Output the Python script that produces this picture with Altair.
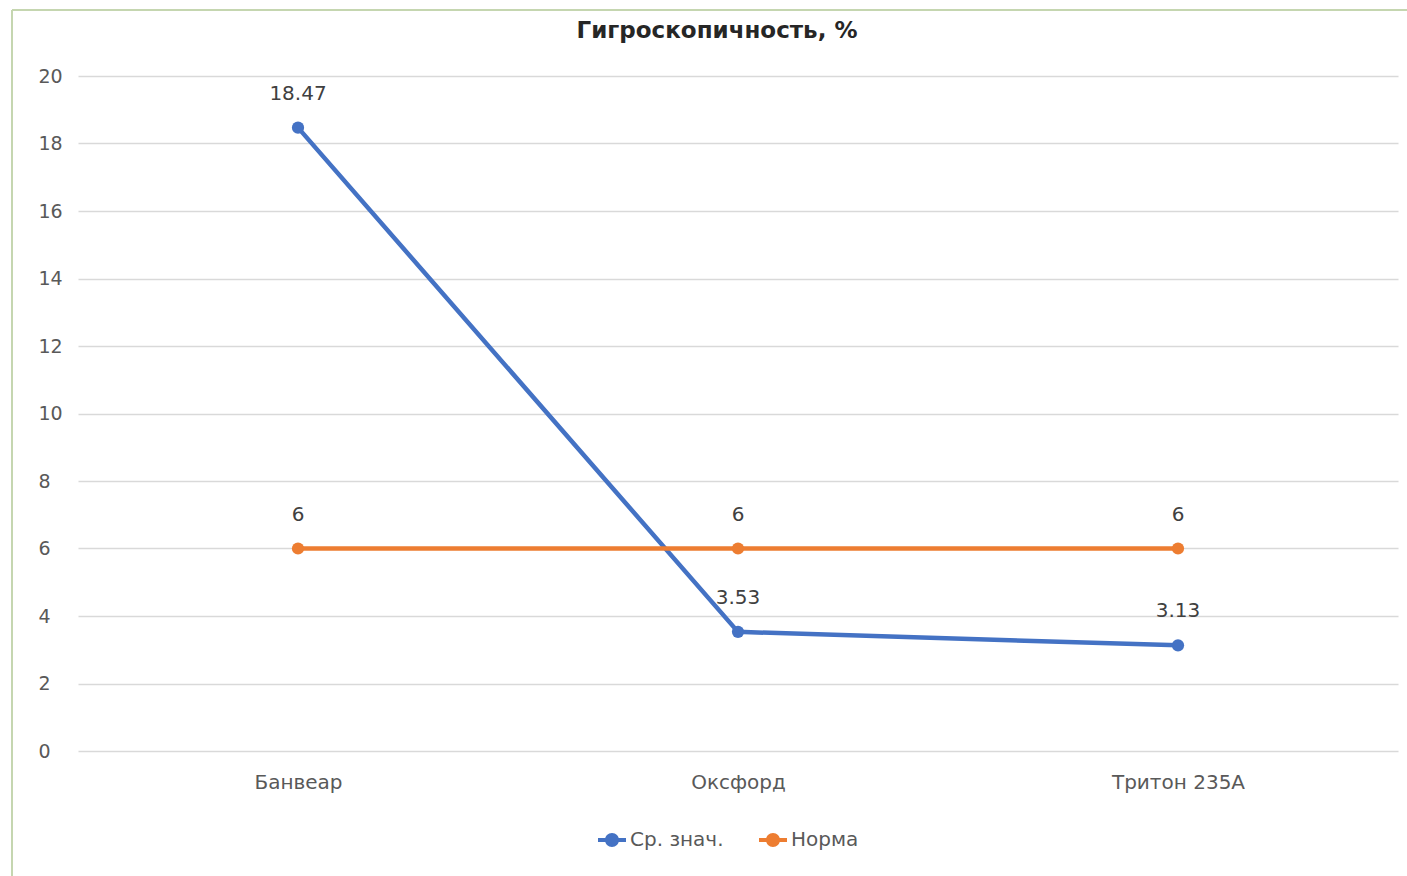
import altair as alt
import pandas as pd

# Categories and series values
categories = ["Банвеар", "Оксфорд", "Тритон 235А"]
series_names = ["Ср. знач.", "Норма"]
mean_values = [18.47, 3.53, 3.13]
norm_values = [6, 6, 6]
y_ticks = [0, 2, 4, 6, 8, 10, 12, 14, 16, 18, 20]

colors = ["#4472C4", "#ED7D31"]
FONT = "DejaVu Sans"
TEXT_GRAY = "#595959"

rows = []
for cat, m, n in zip(categories, mean_values, norm_values):
    rows.append({"cat": cat, "series": series_names[0], "value": m})
    rows.append({"cat": cat, "series": series_names[1], "value": n})
df = pd.DataFrame(rows)

x_enc = alt.X("cat:N", sort=categories, title=None,
              scale=alt.Scale(paddingInner=0, paddingOuter=0.5, align=0.5),
              axis=alt.Axis(labelAngle=0, domain=False, ticks=False, grid=False,
                            labelFontSize=20, labelColor=TEXT_GRAY, labelFont=FONT,
                            labelPadding=31, labelBaseline="middle"))
y_enc = alt.Y("value:Q", title=None,
              scale=alt.Scale(domain=[0, 20], nice=False, zero=True),
              axis=alt.Axis(values=y_ticks, domain=False, ticks=False,
                            gridColor="#d9d9d9", gridWidth=1.5,
                            labelFontSize=19, labelColor=TEXT_GRAY, labelFont=FONT,
                            labelAlign="left", labelPadding=40))
color_enc = alt.Color("series:N", sort=series_names,
                      scale=alt.Scale(domain=series_names, range=colors),
                      legend=alt.Legend(title=None, orient="none", direction="horizontal",
                                        legendX=520, legendY=750,
                                        symbolType="M-1,-0.15 L1,-0.15 L1,0.15 L-1,0.15 Z "
                                                   "M-0.5,0 A0.5,0.5 0 1,1 0.5,0 A0.5,0.5 0 1,1 -0.5,0 Z",
                                        symbolSize=784, symbolStrokeWidth=0,
                                        labelFontSize=20, labelColor=TEXT_GRAY, labelFont=FONT,
                                        labelOffset=4, columnPadding=35))

base = alt.Chart(df)

lines = base.mark_line(strokeWidth=4.5).encode(x=x_enc, y=y_enc, color=color_enc,
                                                detail="series:N")
points = base.mark_point(filled=True, size=150, opacity=1).encode(
    x=x_enc, y=y_enc,
    color=alt.Color("series:N", scale=alt.Scale(domain=series_names, range=colors), legend=None))
labels = base.mark_text(dy=-34, fontSize=20, color="#404040", font=FONT).encode(
    x=x_enc, y=y_enc, text=alt.Text("value:Q"))

# frame lines along the left and top edges
frame_left = alt.Chart(pd.DataFrame({"k": [0]})).mark_rule(color="#c5d6b0", strokeWidth=2).encode(
    x=alt.value(-66), y=alt.value(-66), y2=alt.value(830))
frame_top = alt.Chart(pd.DataFrame({"k": [0]})).mark_rule(color="#c5d6b0", strokeWidth=2).encode(
    x=alt.value(-66), x2=alt.value(1340), y=alt.value(-66))

chart = alt.layer(lines, points, labels, frame_left, frame_top).properties(
    width=1320, height=675,
    title=alt.TitleParams("Гигроскопичность, %", fontSize=23, fontWeight="bold",
                          font=FONT, color="#262626", anchor="middle", dx=-21,
                          offset=22, dy=56),
    autosize=alt.AutoSizeParams(type="none"),
    padding={"left": 78, "top": 76, "right": 9, "bottom": 125},
).configure(background="white", view=alt.ViewConfig(strokeWidth=0))

chart.save("out.html", embed_options={"renderer": "svg", "actions": False})
